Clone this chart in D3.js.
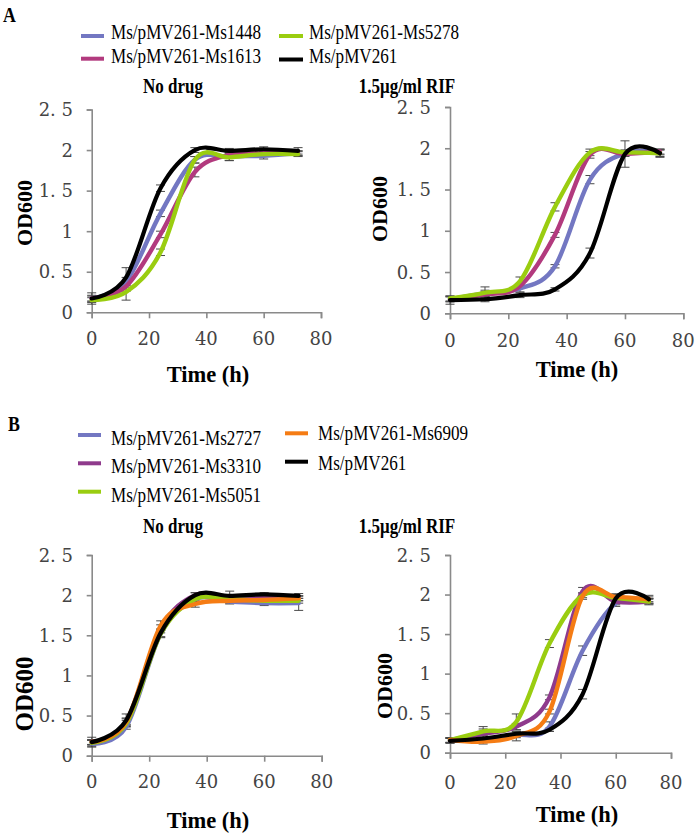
<!DOCTYPE html>
<html><head><meta charset="utf-8">
<script src="https://cdn.jsdelivr.net/npm/d3@7/dist/d3.min.js"></script>
<style>html,body{margin:0;padding:0;background:#fff;}svg{display:block;}</style>
</head><body><svg id="c" width="697" height="836"></svg>
<script>
// ---------- data ----------
const timePoints = [0, 12, 24, 36, 48, 60, 72];
const xTicks = [0, 20, 40, 60, 80];
const yTicks = [0, 0.5, 1, 1.5, 2, 2.5];
const yTickLabels = ["0", "0. 5", "1", "1. 5", "2", "2. 5"];

const namesA = ["Ms/pMV261-Ms1448", "Ms/pMV261-Ms1613", "Ms/pMV261-Ms5278", "Ms/pMV261"];
const colorsA = ["#7377c2", "#b23a7e", "#9acd10", "#000000"];
const namesB = ["Ms/pMV261-Ms2727", "Ms/pMV261-Ms3310", "Ms/pMV261-Ms5051", "Ms/pMV261-Ms6909", "Ms/pMV261"];
const colorsB = ["#7377c2", "#8f3a8c", "#9acd10", "#f57c14", "#000000"];

// Panel A, no drug
const aNoDrug1448 = [0.17, 0.38, 1.22, 1.88, 1.92, 1.93, 1.96];
const aNoDrug1613 = [0.17, 0.32, 0.96, 1.73, 1.94, 1.96, 1.96];
const aNoDrug5278 = [0.15, 0.25, 0.74, 1.88, 1.91, 1.95, 1.95];
const aNoDrugCtrl = [0.17, 0.43, 1.53, 2.00, 1.99, 2.01, 1.99];
const aNoDrugErr1448 = [0.03, 0.05, 0.04, 0.04, 0.05, 0.04, 0.03];
const aNoDrugErr1613 = [0.04, 0.06, 0.04, 0.06, 0.03, 0.03, 0.03];
const aNoDrugErr5278 = [0.03, 0.10, 0.04, 0.04, 0.04, 0.03, 0.03];
const aNoDrugErrCtrl = [0.07, 0.12, 0.04, 0.03, 0.03, 0.03, 0.04];

// Panel A, 1.5 ug/ml RIF
const aRif1448 = [0.17, 0.24, 0.30, 0.57, 1.62, 1.94, 1.95];
const aRif1613 = [0.17, 0.23, 0.33, 0.95, 1.92, 1.93, 1.96];
const aRif5278 = [0.18, 0.25, 0.39, 1.29, 1.95, 1.95, 1.94];
const aRifCtrl = [0.16, 0.17, 0.22, 0.29, 0.73, 1.93, 1.94];
const aRifErr1448 = [0.03, 0.04, 0.04, 0.02, 0.05, 0.03, 0.03];
const aRifErr1613 = [0.03, 0.03, 0.03, 0.03, 0.04, 0.03, 0.03];
const aRifErr5278 = [0.03, 0.07, 0.05, 0.05, 0.04, 0.03, 0.04];
const aRifErrCtrl = [0.05, 0.03, 0.03, 0.02, 0.06, 0.16, 0.05];

// Panel B, no drug
const bNoDrug2727 = [0.15, 0.36, 1.52, 1.95, 1.92, 1.90, 1.90];
const bNoDrug3310 = [0.17, 0.42, 1.58, 2.00, 1.96, 1.97, 1.96];
const bNoDrug5051 = [0.16, 0.40, 1.52, 1.95, 1.95, 1.93, 1.93];
const bNoDrug6909 = [0.17, 0.42, 1.62, 1.89, 1.93, 1.94, 1.96];
const bNoDrugCtrl = [0.17, 0.44, 1.53, 2.00, 1.99, 2.01, 1.99];
const bNoDrugErr2727 = [0.04, 0.03, 0.04, 0.03, 0.03, 0.03, 0.09];
const bNoDrugErr3310 = [0.03, 0.04, 0.05, 0.03, 0.03, 0.03, 0.03];
const bNoDrugErr5051 = [0.03, 0.04, 0.05, 0.03, 0.03, 0.02, 0.03];
const bNoDrugErr6909 = [0.03, 0.05, 0.06, 0.04, 0.03, 0.03, 0.03];
const bNoDrugErrCtrl = [0.06, 0.08, 0.05, 0.03, 0.06, 0.02, 0.03];

// Panel B, 1.5 ug/ml RIF
const bRif2727 = [0.15, 0.16, 0.22, 0.33, 1.29, 1.89, 1.92];
const bRif3310 = [0.16, 0.24, 0.33, 0.70, 2.04, 1.91, 1.91];
const bRif5051 = [0.16, 0.27, 0.39, 1.38, 1.99, 1.96, 1.91];
const bRif6909 = [0.16, 0.14, 0.21, 0.52, 1.98, 1.97, 1.94];
const bRifCtrl = [0.15, 0.18, 0.24, 0.29, 0.74, 1.95, 1.94];
const bRifErr2727 = [0.03, 0.03, 0.03, 0.06, 0.06, 0.04, 0.03];
const bRifErr3310 = [0.03, 0.06, 0.04, 0.03, 0.05, 0.04, 0.04];
const bRifErr5051 = [0.03, 0.06, 0.10, 0.05, 0.03, 0.03, 0.03];
const bRifErr6909 = [0.03, 0.03, 0.06, 0.03, 0.04, 0.03, 0.03];
const bRifErrCtrl = [0.03, 0.04, 0.03, 0.02, 0.06, 0.06, 0.05];

// ---------- layout ----------
const svg = d3.select("#c");
const serif = "'Liberation Serif','Times New Roman',serif";
const tickFont = "'DejaVu Serif',serif";
const axisColor = "#8a8a8a";

const panels = [
  {x0: 91.7, x1: 321, y0: 312.3, y1: 109.5, title: "No drug", tx: 173, ty: 93,
   xLabY: 345, xtX: 208, xtY: 382, ytX: 25, ytY: 213, ytSize: 22, yLabX: 73,
   series: [aNoDrug1448, aNoDrug1613, aNoDrug5278, aNoDrugCtrl],
   errs: [aNoDrugErr1448, aNoDrugErr1613, aNoDrugErr5278, aNoDrugErrCtrl], colors: colorsA},
  {x0: 450, x1: 683.3, y0: 313.3, y1: 107, title: "1.5μg/ml RIF", tx: 407, ty: 93,
   xLabY: 346.5, xtX: 577, xtY: 377, ytX: 380, ytY: 209, ytSize: 22, yLabX: 431,
   series: [aRif1448, aRif1613, aRif5278, aRifCtrl],
   errs: [aRifErr1448, aRifErr1613, aRifErr5278, aRifErrCtrl], colors: colorsA},
  {x0: 91.7, x1: 321.7, y0: 755.7, y1: 555, title: "No drug", tx: 173, ty: 533,
   xLabY: 788, xtX: 208, xtY: 828, ytX: 25, ytY: 694, ytSize: 25, yLabX: 73,
   series: [bNoDrug2727, bNoDrug3310, bNoDrug5051, bNoDrug6909, bNoDrugCtrl],
   errs: [bNoDrugErr2727, bNoDrugErr3310, bNoDrugErr5051, bNoDrugErr6909, bNoDrugErrCtrl], colors: colorsB},
  {x0: 450, x1: 671, y0: 752.7, y1: 555, title: "1.5μg/ml RIF", tx: 407, ty: 533,
   xLabY: 788.5, xtX: 577, xtY: 822, ytX: 385, ytY: 686, ytSize: 22, yLabX: 431,
   series: [bRif2727, bRif3310, bRif5051, bRif6909, bRifCtrl],
   errs: [bRifErr2727, bRifErr3310, bRifErr5051, bRifErr6909, bRifErrCtrl], colors: colorsB}
];

panels.forEach(p => {
  const x = d3.scaleLinear().domain([0, 80]).range([p.x0, p.x1]);
  const y = d3.scaleLinear().domain([0, 2.5]).range([p.y0, p.y1]);
  const g = svg.append("g");

  // axes
  const xAxis = g.append("g").attr("transform", `translate(0,${p.y0})`)
    .call(d3.axisBottom(x).tickValues(xTicks).tickSize(6).tickFormat(""));
  const yAxis = g.append("g").attr("transform", `translate(${p.x0},0)`)
    .call(d3.axisLeft(y).tickValues(yTicks).tickSize(5).tickFormat(""));
  [xAxis, yAxis].forEach(a => {
    a.select(".domain").attr("stroke", axisColor).attr("stroke-width", 1.6);
    a.selectAll(".tick line").attr("stroke", axisColor).attr("stroke-width", 1.6);
  });
  g.selectAll(".xl").data(xTicks).enter().append("text")
    .attr("x", d => x(d)).attr("y", p.xLabY).attr("text-anchor", "middle")
    .attr("font-family", tickFont).attr("font-size", 18).attr("fill", "#444")
    .text(d => d);
  g.selectAll(".yl").data(yTicks).enter().append("text")
    .attr("x", p.yLabX).attr("y", d => y(d) + 6.5).attr("text-anchor", "end")
    .attr("font-family", tickFont).attr("font-size", 18).attr("fill", "#444")
    .text((d, i) => yTickLabels[i]);

  // error bars (drawn beneath the curves)
  p.series.forEach((s, k) => {
    s.forEach((v, i) => {
      const e = p.errs[k][i];
      const cx = x(timePoints[i]);
      g.append("line").attr("x1", cx).attr("x2", cx).attr("y1", y(v - e)).attr("y2", y(v + e))
        .attr("stroke", "#4a4a4a").attr("stroke-width", 1);
      [v - e, v + e].forEach(w => g.append("line").attr("x1", cx - 4.5).attr("x2", cx + 4.5)
        .attr("y1", y(w)).attr("y2", y(w)).attr("stroke", "#4a4a4a").attr("stroke-width", 1));
    });
  });

  // lines
  const line = d3.line().x((d, i) => x(timePoints[i])).y(d => y(d))
    .curve(d3.curveCardinal.tension(0));
  p.series.forEach((s, k) => {
    g.append("path").datum(s).attr("d", line).attr("fill", "none")
      .attr("stroke", p.colors[k]).attr("stroke-width", k === p.series.length - 1 ? 4.2 : 4.4)
      .attr("stroke-linejoin", "round").attr("stroke-linecap", "round");
  });

  // titles
  g.append("text").attr("transform", `translate(${p.tx},${p.ty}) scale(0.85,1)`)
    .attr("text-anchor", "middle").attr("font-family", serif).attr("font-weight", "bold")
    .attr("font-size", 20).text(p.title);
  g.append("text").attr("x", p.xtX).attr("y", p.xtY).attr("text-anchor", "middle")
    .attr("font-family", serif).attr("font-weight", "bold").attr("font-size", 22.5).text("Time (h)");
  g.append("text").attr("transform", `translate(${p.ytX + p.ytSize * 0.33},${p.ytY}) rotate(-90)`)
    .attr("text-anchor", "middle").attr("font-family", serif).attr("font-weight", "bold")
    .attr("font-size", p.ytSize).text("OD600");
});

// panel letters
svg.append("text").attr("transform", "translate(3,22) scale(0.85,1)").attr("font-family", serif)
  .attr("font-weight", "bold").attr("font-size", 21).text("A");
svg.append("text").attr("transform", "translate(8,431) scale(0.85,1)").attr("font-family", serif)
  .attr("font-weight", "bold").attr("font-size", 21).text("B");

// legends
function legendItem(lx1, lx2, ly, tx, tyBase, color, label) {
  svg.append("line").attr("x1", lx1).attr("x2", lx2).attr("y1", ly).attr("y2", ly)
    .attr("stroke", color).attr("stroke-width", 4);
  svg.append("text").attr("transform", `translate(${tx},${tyBase}) scale(0.855,1)`)
    .attr("font-family", serif).attr("font-size", 20).attr("fill", "#000").text(label);
}
// A legend
legendItem(81, 104, 36, 111, 38.5, colorsA[0], namesA[0]);
legendItem(81, 104, 58.7, 111, 63, colorsA[1], namesA[1]);
legendItem(279, 303, 36, 309, 38.5, colorsA[2], namesA[2]);
legendItem(279, 303, 59.5, 309, 63, colorsA[3], namesA[3]);
// B legend
legendItem(78, 101, 435, 111, 445, colorsB[0], namesB[0]);
legendItem(78, 101, 463.3, 111, 473, colorsB[1], namesB[1]);
legendItem(78, 101, 491.7, 111, 501.7, colorsB[2], namesB[2]);
legendItem(285, 308, 433.3, 318, 440, colorsB[3], namesB[3]);
legendItem(285, 308, 461.7, 318, 470, colorsB[4], namesB[4]);
</script></body></html>
